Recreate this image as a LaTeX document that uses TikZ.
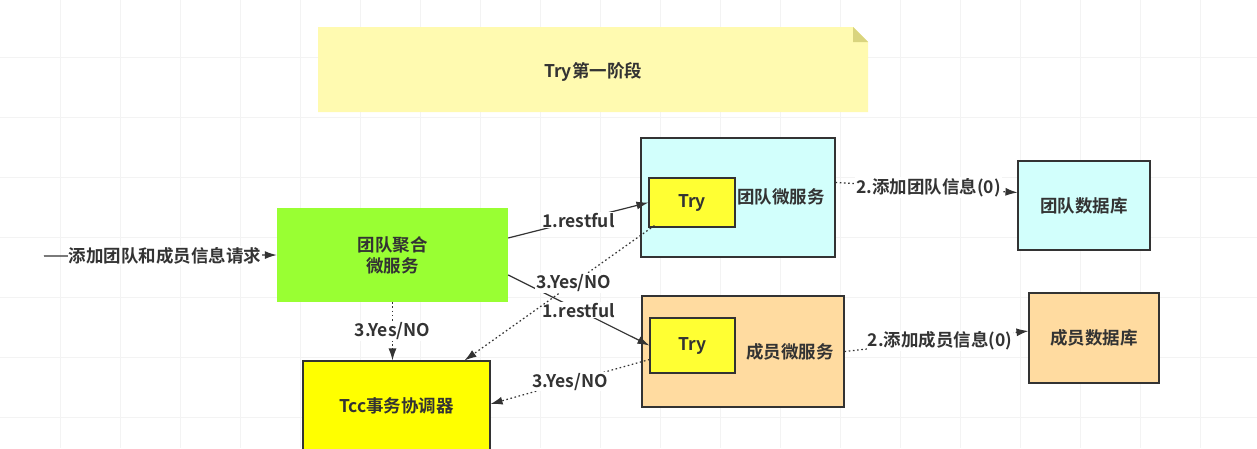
\documentclass[tikz,border=0pt]{standalone}
\usepackage{fontspec}
\setmainfont{Noto Sans CJK SC}[BoldFont={Noto Sans CJK SC Bold}]
\usetikzlibrary{arrows.meta,calc}
\definecolor{txt}{HTML}{333333}
\definecolor{notefill}{HTML}{FFFAB0}
\definecolor{notefold}{HTML}{D9D47E}
\definecolor{greenfill}{HTML}{99FF33}
\definecolor{cyanfill}{HTML}{D2FFFC}
\definecolor{orangefill}{HTML}{FFDBA0}
\definecolor{tryfill}{HTML}{FFFF33}
\definecolor{tccfill}{HTML}{FFFF00}
\definecolor{gridc}{HTML}{F3F3F3}
\begin{document}
\begin{tikzpicture}[x=1pt,y=-1pt,
  every node/.style={font=\fontsize{17.5}{21}\selectfont\bfseries, text=txt},
  box/.style={draw=txt, line width=1.1pt, rectangle, inner sep=0pt, align=center},
  lbl/.style={fill=white, inner sep=1pt},
  conn/.style={draw=txt, line width=1.2pt, -{Latex[length=12pt,width=8pt]}},
  dconn/.style={conn, dash pattern=on 1.6pt off 2.6pt}
]
\useasboundingbox (0,0) rectangle (1257,448);
\fill[white] (0,0) rectangle (1257,448);
% faint grid
\foreach \gx in {60,120,...,1250} \draw[gridc, line width=0.6pt] (\gx,0) -- (\gx,448);
\foreach \gy in {57,117,...,447} \draw[gridc, line width=0.6pt] (0,\gy) -- (1257,\gy);

% note
\fill[notefill] (318,27) -- (853,27) -- (868,42) -- (868,112) -- (318,112) -- cycle;
\fill[notefold] (853,27) -- (868,42) -- (853,42) -- cycle;
\node (note) at (593,72) {Try第一阶段};

% boxes
\node[rectangle, fill=greenfill, minimum width=231pt, minimum height=94pt, align=center, inner sep=0pt] (agg) at (392.5,255) {团队聚合\\微服务};
\node[box, fill=cyanfill, minimum width=194pt, minimum height=119pt] (svc1) at (738,197.5) {};
\node[box, fill=tryfill, minimum width=86pt, minimum height=49pt] (try1) at (692,202.5) {Try};
\node (svc1t) at (781,197) {团队微服务};

\node[box, fill=orangefill, minimum width=202pt, minimum height=111pt] (svc2) at (743,351.5) {};
\node[box, fill=tryfill, minimum width=85pt, minimum height=55pt] (try2) at (692.5,345.5) {Try};
\node (svc2t) at (790,352) {成员微服务};

\node[box, fill=tccfill, minimum width=187pt, minimum height=90pt] (tcc) at (396.5,406) {Tcc事务协调器};

\node[box, fill=cyanfill, minimum width=132pt, minimum height=89pt] (db1) at (1084,205.5) {团队数据库};
\node[box, fill=orangefill, minimum width=130pt, minimum height=90pt] (db2) at (1094,338) {成员数据库};

% connectors
\coordinate (in) at (44,256);
\draw[conn] (in) -- node[lbl, pos=0.52] {添加团队和成员信息请求} (agg.west);
\draw[conn] ([yshift=17pt]agg.east) -- node[lbl, pos=0.5] {1.restful} (try1.west);
\draw[conn] ([yshift=-20pt]agg.east) -- node[lbl, pos=0.5] {1.restful} (try2.west);
\draw[dconn] ([xshift=6pt,yshift=2pt]try1.south west) -- node[lbl, pos=0.425] {3.Yes/NO} ([xshift=68pt]tcc.north);
\draw[dconn] ([yshift=-14pt]try2.west) -- node[lbl, pos=0.5] {3.Yes/NO} ([yshift=2pt]tcc.east);
\draw[dconn] (agg.south) -- node[lbl, pos=0.5] {3.Yes/NO} (agg.south |- tcc.north);
\draw[dconn] ([yshift=15pt]svc1.east) -- node[lbl, pos=0.51] {2.添加团队信息(0)} ([yshift=13pt]db1.west);
\draw[dconn] (svc2.east) -- node[lbl, pos=0.52] {2.添加成员信息(0)} ([yshift=7pt]db2.west);
\end{tikzpicture}
\end{document}
